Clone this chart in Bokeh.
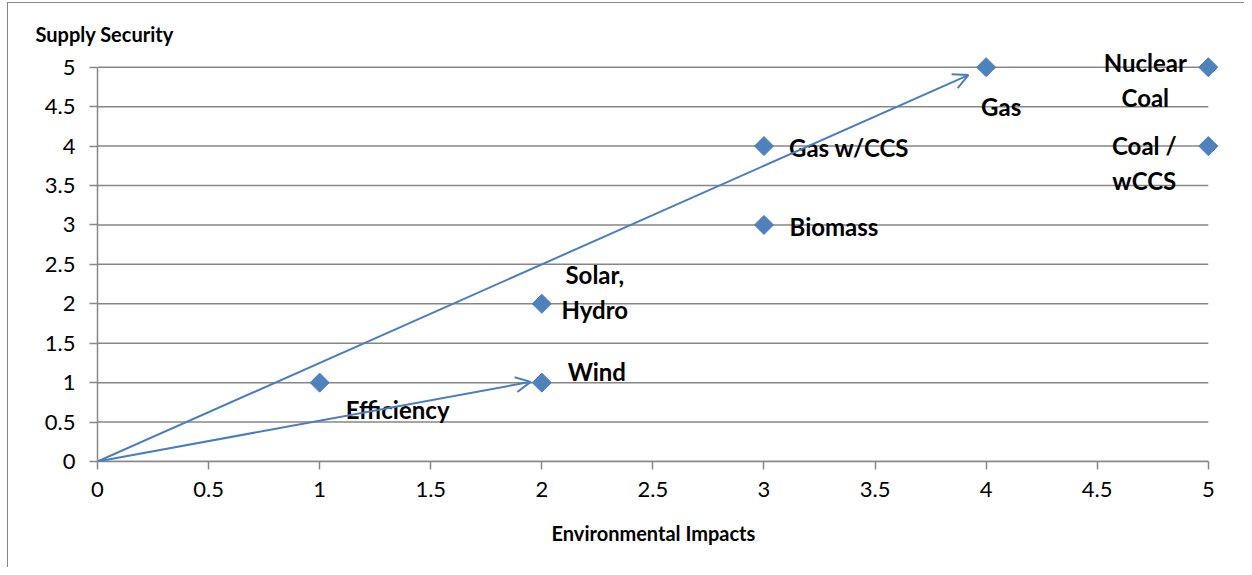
from bokeh.plotting import figure
from bokeh.models import (Range1d, Arrow, OpenHead, ColumnDataSource,
                          FixedTicker, NumeralTickFormatter, Title)
from bokeh.core.properties import value
from bokeh.embed import file_html
from bokeh.resources import INLINE
import math

# ---- data ----
impact = [1, 2, 2, 3, 3, 4, 5, 5]
security = [1, 1, 2, 3, 4, 5, 5, 4]
names = ["Efficiency", "Wind", "Solar,\nHydro", "Biomass", "Gas w/CCS", "Gas",
         "Nuclear\nCoal", "Coal /\nwCCS"]
arrow_x_start = [0, 0]
arrow_y_start = [0, 0]
arrow_x_end = [3.92, 1.95]
arrow_y_end = [4.9, 1.01]
tick_values = [0, 0.5, 1, 1.5, 2, 2.5, 3, 3.5, 4, 4.5, 5]
axis_bounds = (0, 5)
x_title = "Environmental Impacts"
y_title = "Supply Security"

# ---- label placement (pixels) ----
label_dx = [78, 55, 53, 70, 85, 15, -63, -64]
label_dy = [27, -11, -12, 2, 1, 39, 13, 17]

FONT = "Lato"
GREY = "#868686"
BLUE = "#4F81BD"
ARROW = "#4A7EBB"

p = figure(width=1236, height=564, output_backend="svg", toolbar_location=None,
           x_range=Range1d(0, 5.1), y_range=Range1d(0, 5.25),
           min_border_left=89, min_border_right=14, min_border_top=44,
           min_border_bottom=106)
p.frame_width = 1133
p.frame_height = 414
p.outline_line_color = None
p.styles = {"margin-left": "7px", "margin-top": "2px",
            "border-left": "1px solid #868686", "border-top": "1px solid #868686"}

p.title.text = y_title
p.title.align = "left"
p.title.offset = -62
p.title.text_font = FONT
p.title.text_font_size = "20px"
p.title.text_font_style = "bold"
p.title.text_color = "black"
p.title.standoff = 4

for ax in (p.xaxis[0], p.yaxis[0]):
    ax.ticker = FixedTicker(ticks=tick_values)
    ax.formatter = NumeralTickFormatter(format="0.[0]")
    ax.bounds = axis_bounds
    ax.axis_line_color = GREY
    ax.axis_line_width = 1.5
    ax.major_tick_line_color = GREY
    ax.major_tick_line_width = 1.5
    ax.major_tick_in = 0
    ax.major_tick_out = 8
    ax.minor_tick_line_color = None
    ax.major_label_text_font = FONT
    ax.major_label_text_font_size = "22px"
    ax.major_label_text_color = "black"

p.xaxis.major_label_standoff = 12
p.yaxis.major_label_standoff = 14

p.add_layout(Title(text=x_title, align="left", offset=454, text_font=FONT,
                   text_font_size="20px", text_font_style="bold",
                   text_color="black", standoff=38), "below")

# horizontal gridlines spanning only the axis bounds
p.xgrid.grid_line_color = None
p.ygrid.grid_line_color = None
p.segment(x0=[axis_bounds[0]] * len(tick_values), x1=[axis_bounds[1]] * len(tick_values),
          y0=tick_values, y1=tick_values, line_color=GREY, line_width=1.5,
          level="underlay")

for xs, ys, xe, ye in zip(arrow_x_start, arrow_y_start, arrow_x_end, arrow_y_end):
    p.add_layout(Arrow(x_start=xs, y_start=ys, x_end=xe, y_end=ye,
                       line_color=ARROW, line_width=2,
                       end=OpenHead(size=15, line_color=ARROW, line_width=2)))

src = ColumnDataSource(dict(x=impact, y=security, name=names, dx=label_dx, dy=label_dy))
p.scatter("x", "y", source=src, marker="square", size=13.5, angle=math.pi / 4,
          fill_color=BLUE, line_color=BLUE)
p.text("x", "y", text="name", source=src, x_offset="dx", y_offset="dy",
       text_font=value(FONT), text_font_size="24px", text_font_style="bold",
       text_align="center", text_baseline="middle", text_line_height=1.2,
       text_color="black")

open("out.html", "w").write(file_html(p, INLINE))
